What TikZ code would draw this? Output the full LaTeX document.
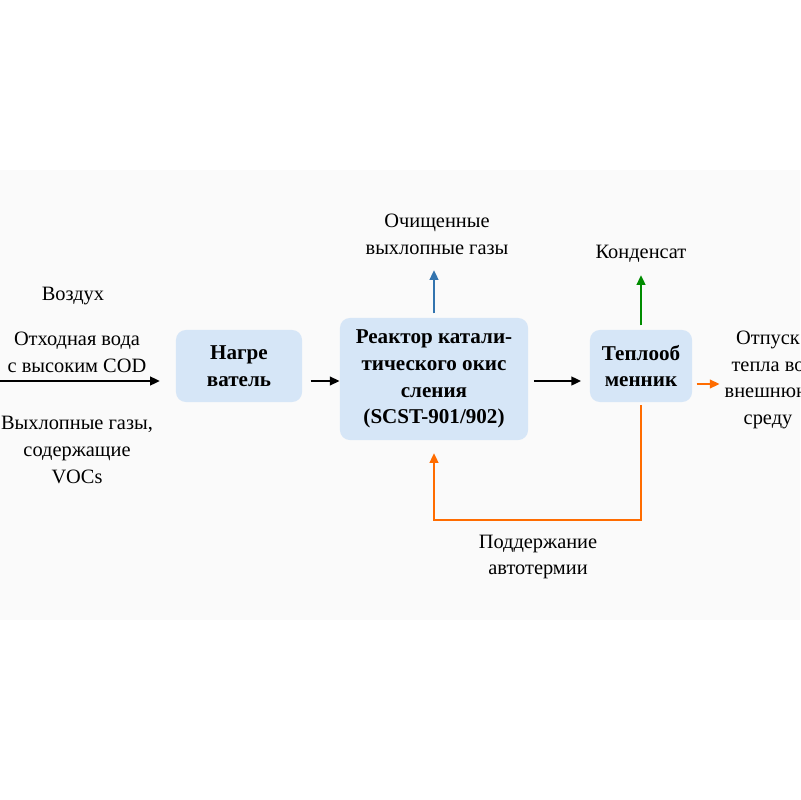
\documentclass[tikz,border=0pt]{standalone}
\usepackage{fontspec}
\setmainfont{Liberation Serif}
\usetikzlibrary{positioning,arrows.meta}

\definecolor{boxblue}{HTML}{D6E6F7}
\begin{document}
\begin{tikzpicture}[x=0.025cm, y=-0.025cm,
  box/.style={draw=none, fill=boxblue, rounded corners=7pt, font=\bfseries\fontsize{15}{19}\selectfont, align=center},
  lbl/.style={font=\fontsize{14.5}{19}\selectfont, align=center},
  flow/.style={-{Triangle[length=7pt,width=6pt]}, line width=1.8pt}]
  \clip (0,0) rectangle (800,800);
  \fill[white] (0,0) rectangle (800,800);
  \fill[black!2] (0,170) rectangle (800,620);

  % Boxes
  \node[box, minimum width=3.15cm, minimum height=1.8cm] (heater) at (239,366) {Нагре\\ватель};
  \node[box, minimum width=4.7cm, minimum height=3.05cm] (reactor) at (434,379) {Реактор катали-\\тического окис\\сления\\(SCST-901/902)};
  \node[box, minimum width=2.55cm, minimum height=1.8cm] (hx) at (641,366) {Теплооб\\менник};

  % Inputs on the left
  \node[lbl] (air) at (73,296) {Воздух};
  \node[lbl] (water) at (77,352) {Отходная вода\\с высоким COD};
  \node[lbl] (gas) at (77,450) {Выхлопные газы,\\содержащие\\VOCs};
  \coordinate (in) at (0,381);
  \coordinate (inend) at (160,381);

  % Outputs
  \node[lbl] (clean) at (437,234) {Очищенные\\выхлопные газы};
  \node[lbl] (cond) at (641,254) {Конденсат};
  \node[lbl] (heat) at (768,380) {Отпуск\\тепла во\\внешнюю\\среду};
  \node[lbl] (auto) at (538,557) {Поддержание\\автотермии};
  \coordinate (cleanend) at (434,270);
  \coordinate (condend) at (641,275);
  \coordinate (loop) at (641,520);
  \coordinate (loopend) at (434,453);

  % Arrows
  \draw[flow] (in) -- (inend);
  \draw[flow] ([xshift=6pt]heater.east |- 0,381) -- (reactor.west |- 0,381);
  \draw[flow] ([xshift=4pt]reactor.east |- 0,381) -- ([xshift=-6pt]hx.west |- 0,381);
  \draw[flow, cyan!60!blue!80!black] ([yshift=3pt]reactor.north) -- (cleanend);
  \draw[flow, green!55!black] ([yshift=3pt]hx.north) -- (condend);
  \draw[flow, orange!85!red] ([xshift=3pt]hx.east |- 0,384) -- (heat.west |- 0,384);
  \draw[flow, orange!85!red] ([yshift=-2pt]hx.south) -- (loop) -| (loopend);
\end{tikzpicture}
\end{document}
